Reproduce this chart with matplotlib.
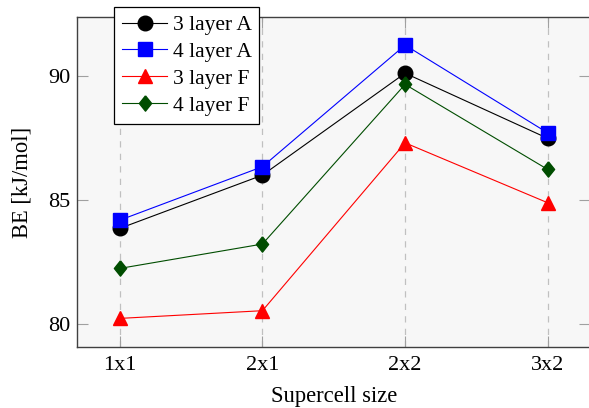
import matplotlib
matplotlib.use("Agg")
import matplotlib.pyplot as plt

plt.rcParams['font.family'] = ['Liberation Serif', 'DejaVu Serif']

# supercell sizes and binding energies [kJ/mol]
sizes = ['1x1', '2x1', '2x2', '3x2']
be_3A = [83.86, 86.00, 90.10, 87.48]
be_4A = [84.19, 86.34, 91.23, 87.70]
be_3F = [80.24, 80.55, 87.30, 84.89]
be_4F = [82.25, 83.23, 89.65, 86.23]

fig = plt.figure(figsize=(5.89, 4.08), dpi=100)
W, H = 589, 408
ax = fig.add_axes([77 / W, (H - 347) / H, (590.5 - 77) / W, (347 - 17) / H])
ax.set_facecolor('#f7f7f7')

diamond = [(0, 1), (0.8, 0), (0, -1), (-0.8, 0), (0, 1)]

x = range(len(sizes))
ax.plot(x, be_3A, color='black', lw=0.8, marker='o', ms=10.5, label='3 layer A')
ax.plot(x, be_4A, color='blue', lw=0.8, marker='s', ms=10.5, label='4 layer A')
ax.plot(x, be_3F, color='red', lw=0.8, marker='^', ms=9.5, label='3 layer F')
ax.plot(x, be_4F, color='#004d00', lw=0.8, marker=diamond, ms=11, label='4 layer F')

ax.set_xlim(-0.3, 3.3)
ax.set_ylim(79.09, 92.36)
ax.set_xticks(list(x))
ax.set_xticklabels(sizes)
ax.set_yticks([80, 85, 90])
ax.grid(axis='x', color='#c0c0c0', ls=(0, (5, 5)), lw=0.9)
ax.set_axisbelow(True)

ax.tick_params(direction='in', length=8, width=0.8, color='#a0a0a0',
               labelsize=16, top=True, right=True)
ax.tick_params(axis='x', pad=6.5)
ax.tick_params(axis='y', pad=5)
for s in ax.spines.values():
    s.set_color('#404040')
    s.set_linewidth(1.0)

ax.set_xlabel('Supercell size', fontsize=16.3, labelpad=8)
ax.set_ylabel('BE [kJ/mol]', fontsize=16.3, labelpad=11)

leg = ax.legend(loc='upper left', bbox_to_anchor=(114 / W, 1 - 7 / H),
                bbox_transform=fig.transFigure, borderaxespad=0,
                fontsize=15.5, fancybox=False, framealpha=1, edgecolor='black',
                handlelength=2.1, handletextpad=0.25, labelspacing=0.32,
                borderpad=0.37)
leg.get_frame().set_linewidth(0.9)

fig.savefig('out.png', dpi=100)
